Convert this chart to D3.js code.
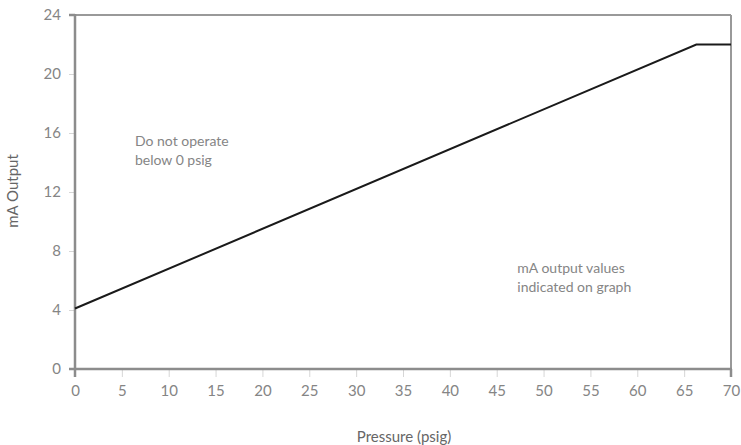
<!DOCTYPE html>
<html><head><meta charset="utf-8">
<script src="https://cdn.jsdelivr.net/npm/d3@7"></script>
<style>body{margin:0;background:#fff}svg{display:block}text{font-family:Lato,"Open Sans",sans-serif}</style>
</head><body>
<svg id="c" width="741" height="445"></svg>
<script>
const pressure = [0, 66.3, 70];
const mAOutput = [4.1, 22, 22];
const xTicks = [0,5,10,15,20,25,30,35,40,45,50,55,60,65,70];
const yTicks = [0,4,8,12,16,20,24];
const notes = [
  {x: 6.4, y: 15.1, lines: ["Do not operate", "below 0 psig"]},
  {x: 47.2, y: 6.5, lines: ["mA output values", "indicated on graph"]}
];

const svg = d3.select("#c");
const L = 75, R = 731, T = 15, B = 369;
const x = d3.scaleLinear().domain([0,70]).range([L,R]);
const y = d3.scaleLinear().domain([0,24]).range([B,T]);
const grey = "#8c8c8c", tickCol = "#d6d6d6", txt = "#858585";

svg.append("line").attr("x1",L).attr("x2",R).attr("y1",T).attr("y2",T).attr("stroke","#999").attr("stroke-width",2);
svg.append("line").attr("x1",R).attr("x2",R).attr("y1",T).attr("y2",B).attr("stroke","#999").attr("stroke-width",2);

const ya = svg.append("g").attr("transform",`translate(${L},0)`)
  .call(d3.axisLeft(y).tickValues(yTicks).tickSize(6).tickPadding(8));
ya.select(".domain").remove();
ya.selectAll(".tick line").attr("stroke",tickCol);
ya.selectAll(".tick text").attr("fill",txt).style("font-size","15px");

const xa = svg.append("g").attr("transform",`translate(0,${B})`)
  .call(d3.axisBottom(x).tickValues(xTicks).tickSize(8).tickPadding(8));
xa.select(".domain").remove();
xa.selectAll(".tick line").attr("stroke",tickCol);
xa.selectAll(".tick text").attr("fill",txt).style("font-size","15px");

svg.append("line").attr("x1",L).attr("x2",L).attr("y1",T-1).attr("y2",B+8).attr("stroke",grey).attr("stroke-width",2.5);
svg.append("line").attr("x1",L-6).attr("x2",R+1).attr("y1",B).attr("y2",B).attr("stroke",grey).attr("stroke-width",2.5);
svg.append("line").attr("x1",L-6).attr("x2",L).attr("y1",T).attr("y2",T).attr("stroke",grey).attr("stroke-width",2.5);
svg.append("line").attr("x1",R).attr("x2",R).attr("y1",B).attr("y2",B+8).attr("stroke",grey).attr("stroke-width",2.5);

const pts = pressure.map((p,i)=>[p,mAOutput[i]]);
svg.append("path").datum(pts)
  .attr("d", d3.line().x(d=>x(d[0])).y(d=>y(d[1])))
  .attr("fill","none").attr("stroke","#1a1a1a").attr("stroke-width",2);

notes.forEach(n=>{
  const t = svg.append("text").attr("x",x(n.x)).attr("y",y(n.y)).attr("fill",txt).style("font-size","14px");
  n.lines.forEach((l,i)=>t.append("tspan").attr("x",x(n.x)).attr("dy",i?19:0).text(l));
});

svg.append("text").attr("x",404).attr("y",442).attr("text-anchor","middle").attr("fill","#666").style("font-size","15px").text("Pressure (psig)");
svg.append("text").attr("transform","translate(18,191) rotate(-90)").attr("text-anchor","middle").attr("fill","#666").style("font-size","15px").text("mA Output");
</script>
</body></html>
